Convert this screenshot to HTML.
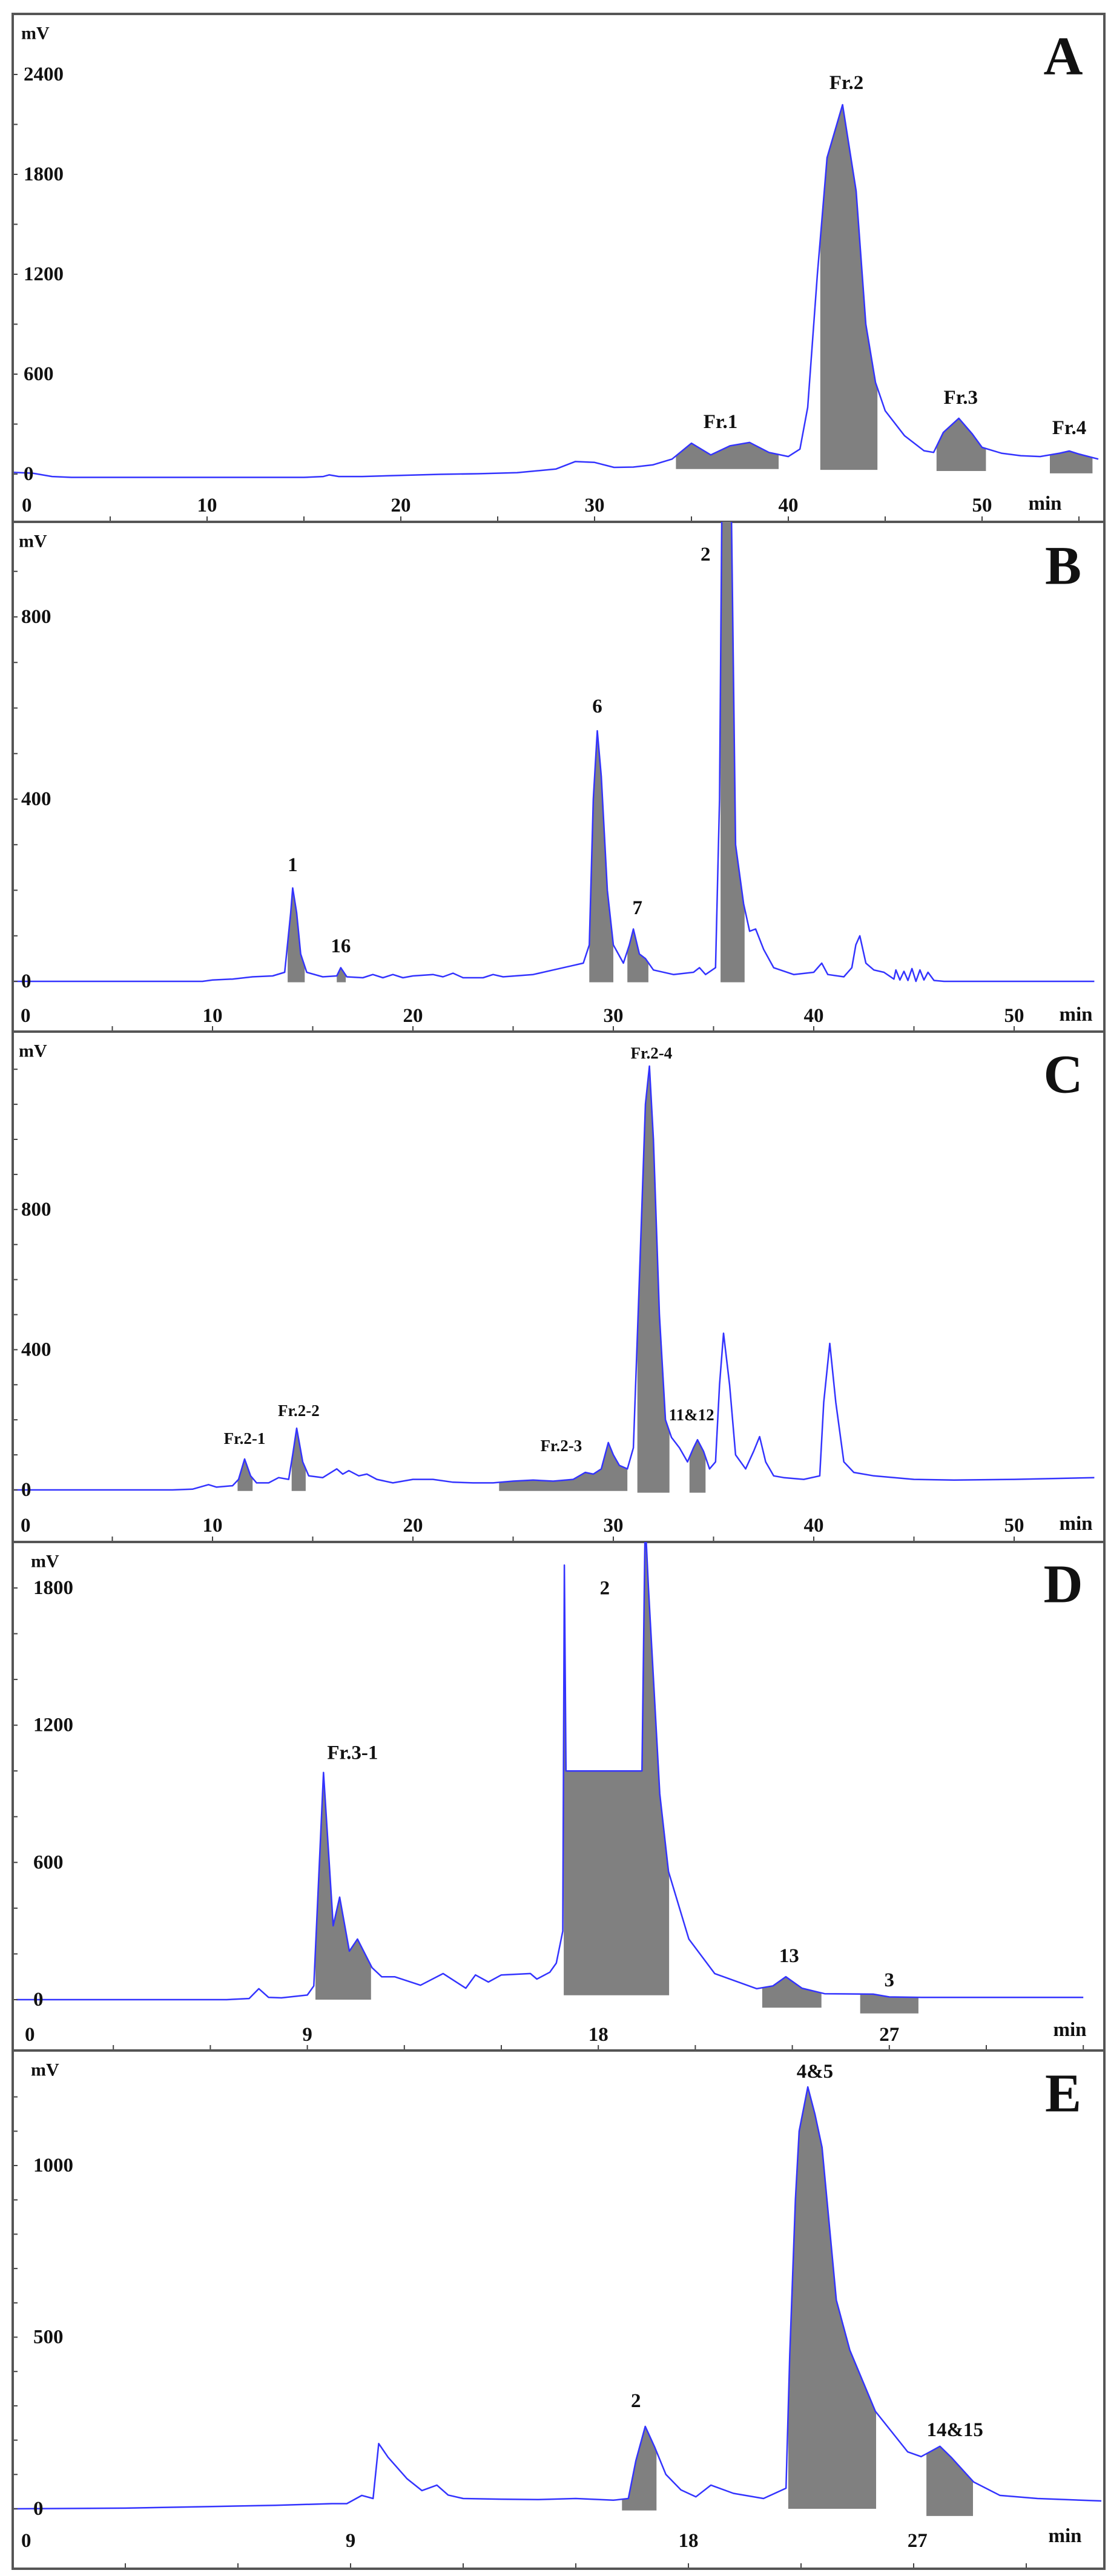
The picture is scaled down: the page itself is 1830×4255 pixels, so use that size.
<!DOCTYPE html>
<html><head><meta charset="utf-8"><style>
html,body{margin:0;padding:0;background:#fff}
svg{display:block}
text{font-family:"Liberation Serif",serif;font-weight:bold;fill:#111}
</style></head><body>
<svg id="fig" width="1830" height="4255" viewBox="0 0 1830 4255" xmlns="http://www.w3.org/2000/svg"></svg>
<script>
// ---------- Panel A data ----------
const aTimes=[0,1,2,3,15,16,16.3,16.8,18,20,22,24,26,28,29,30,31,32,33,34,35,36,37,38,39,40,40.6,41,41.5,42,42.8,43.5,44,44.5,45,46,47,47.5,48,48.8,49.5,50,51,52,53,54,54.5,55,56];
const aValues=[10,5,-15,-20,-20,-15,-5,-15,-15,-8,-2,2,8,30,75,70,40,42,55,90,185,115,170,190,130,105,150,400,1200,1900,2218,1700,900,550,380,230,140,130,250,335,240,160,125,110,105,125,138,120,90];
const aFillStart=[34.2,41.65,47.65,53.5];
const aFillEnd=[39.5,44.6,50.2,55.7];
const aFillBottom=[30,25,18,4];
const aPeakNames=["Fr.1","Fr.2","Fr.3","Fr.4"];
const aPeakT=[36.5,43.0,48.9,54.5];
const aPeakV=[313,2349,458,276];
const aYTicks=[0,600,1200,1800,2400];
const aXTicks=[0,10,20,30,40,50];

// ---------- Panel B data ----------
const bTimes=[0,9.5,10,11,12,13,13.6,13.9,14.0,14.2,14.4,14.7,15.5,16.2,16.4,16.7,17.5,18,18.5,19,19.5,20,21,21.5,22,22.5,23.5,24,24.5,26,27,28,28.5,28.8,29.0,29.2,29.4,29.7,30,30.5,30.8,31.0,31.3,31.6,32,33,34,34.3,34.6,35.1,35.3,35.5,35.7,35.9,36.1,36.5,36.8,37.1,37.5,38,39,40,40.4,40.7,41.5,41.9,42.1,42.3,42.6,43,43.5,44,44.1,44.3,44.5,44.7,44.9,45.1,45.3,45.5,45.7,46,46.5,52,54];
const bValues=[0,0,3,5,10,12,20,150,205,150,60,20,10,12,30,10,8,15,8,15,8,12,15,10,18,8,8,15,10,15,25,35,40,80,400,550,450,200,80,40,80,115,60,50,25,15,20,30,15,30,400,1500,1500,1000,300,170,110,115,70,30,15,20,40,15,10,30,80,100,40,25,20,5,25,3,22,2,28,0,25,3,20,2,0,0,0];
const bFillStart=[13.75,16.2,28.8,30.7,35.35];
const bFillEnd=[14.6,16.65,30.0,31.75,36.55];
const bFillBottom=[-2,-2,-2,-2,-2];
const bPeakNames=["2","6","1","16","7"];
const bPeakT=[34.6,29.2,14.0,16.4,31.2];
const bPeakV=[937,603,255,77,161];
const bYTicks=[0,400,800];
const bXTicks=[0,10,20,30,40,50];

// ---------- Panel C data ----------
const cTimes=[0,8,9,9.8,10.2,11,11.3,11.6,11.9,12.2,12.8,13.3,13.8,14.0,14.2,14.5,14.8,15.5,16.2,16.5,16.8,17.3,17.7,18.2,19,20,21,22,23,24,25,26,27,28,28.6,29,29.4,29.75,30.0,30.3,30.7,31.0,31.3,31.6,31.8,32.0,32.3,32.6,32.9,33.3,33.7,34.0,34.2,34.5,34.8,35.1,35.3,35.5,35.8,36.1,36.6,37.0,37.3,37.6,38,38.5,39.5,40.3,40.5,40.8,41.1,41.5,42,43,45,47,50,54];
const cValues=[0,0,2,15,8,12,30,88,40,20,20,35,30,100,176,80,40,35,60,45,55,40,45,30,20,30,30,22,20,20,25,28,25,30,50,45,60,135,100,70,60,120,600,1100,1209,1000,500,200,150,120,80,120,143,110,60,80,300,447,300,100,60,110,152,80,40,35,30,40,250,418,250,80,50,40,30,28,30,35];
const cFillStart=[11.25,13.95,24.3,31.2,33.8];
const cFillEnd=[12.0,14.65,30.7,32.8,34.6];
const cFillBottom=[-3,-3,-3,-8,-8];
const cPeakNames=["Fr.2-4","Fr.2-1","Fr.2-2","Fr.2-3","11&12"];
const cPeakT=[31.9,11.6,14.3,27.4,33.9];
const cPeakV=[1246,147,226,126,214];
const cYTicks=[0,400,800];
const cXTicks=[0,10,20,30,40,50];

// ---------- Panel D data ----------
const dTimes=[0,6.5,7.2,7.5,7.8,8.2,9.0,9.2,9.5,9.8,10.0,10.3,10.55,11,11.3,11.7,12.5,13.2,13.9,14.2,14.6,15,15.9,16.1,16.5,16.7,16.9,16.95,17.0,19.35,19.45,19.55,19.9,20.17,20.8,21.6,22.9,23.4,23.8,24.3,25,26.5,27,28,33];
const dValues=[0,0,5,48,10,8,20,60,993,323,448,212,265,140,100,100,63,114,50,108,77,108,114,90,120,160,300,1900,1000,1000,2100,1800,900,560,265,114,48,60,100,50,26,24,12,10,10];
const dFillStart=[9.25,16.93,23.07,26.1];
const dFillEnd=[10.97,20.19,24.9,27.9];
const dFillBottom=[0,19,-35,-60];
const dPeakNames=["2","Fr.3-1","13","3"];
const dPeakT=[18.2,10.4,23.9,27.0];
const dPeakV=[1798,1079,190,85];
const dYTicks=[0,600,1200,1800];
const dXTicks=[0,9,18,27];

// ---------- Panel E data ----------
const eTimes=[0,3,5,7,8.5,8.9,9.3,9.6,9.75,10.0,10.5,10.9,11.3,11.6,12,13,14,15,16,16.4,16.6,16.85,17.1,17.4,17.8,18.2,18.6,19.2,20,20.6,20.7,20.85,20.95,21.18,21.37,21.56,21.94,22.3,22.98,23.84,24.2,24.7,25,25.6,26.3,27.3,29];
const eValues=[0,2,6,10,15,15,39,30,190,150,88,53,69,40,30,28,27,30,25,30,140,240,180,100,55,35,69,45,30,60,450,900,1100,1229,1150,1053,608,462,284,166,152,182,150,78,39,30,23];
const eFillStart=[16.23,20.66,24.34];
const eFillEnd=[17.15,23.0,25.58];
const eFillBottom=[-5,0,-21];
const ePeakNames=["4&5","2","14&15"];
const ePeakT=[21.37,16.6,25.1];
const ePeakV=[1273,314,229];
const eYTicks=[0,500,1000];
const eXTickLabels=["0","9","18","27"];
const eXTickAt=[0,9,18,24.1];

const NS="http://www.w3.org/2000/svg";
const svg=document.getElementById('fig');
function mk(tag,attrs,parent){const e=document.createElementNS(NS,tag);for(const k in attrs)e.setAttribute(k,attrs[k]);(parent||svg).appendChild(e);return e;}
function interp(ts,vs,t){if(t<=ts[0])return vs[0];for(let i=1;i<ts.length;i++){if(t<=ts[i]){const f=(t-ts[i-1])/(ts[i]-ts[i-1]);return vs[i-1]+f*(vs[i]-vs[i-1]);}}return vs[vs.length-1];}

const L=21,R=1824;
function panel(p){
  const g=mk('g',{});
  
  
  const X=t=>p.x0+p.xs*t, Y=v=>p.y0-p.ys*v;
  const cid='clip'+p.id;
  const cp=mk('clipPath',{id:cid},g);mk('rect',{x:L,y:p.top,width:R-L,height:p.bot-p.top},cp);
  // fills
  for(let i=0;i<p.fs.length;i++){
    let pts=[];const a=p.fs[i],b=p.fe[i];
    pts.push([X(a),Y(p.fb[i])]);pts.push([X(a),Y(interp(p.ts,p.vs,a))]);
    for(let j=0;j<p.ts.length;j++){if(p.ts[j]>a&&p.ts[j]<b)pts.push([X(p.ts[j]),Y(p.vs[j])]);}
    pts.push([X(b),Y(interp(p.ts,p.vs,b))]);pts.push([X(b),Y(p.fb[i])]);
    const poly=mk('polygon',{points:pts.map(q=>q[0].toFixed(1)+','+q[1].toFixed(1)).join(' '),fill:'#808080','clip-path':'url(#'+cid+')'},g);
    
    
  }
  // curve
  const d=p.ts.map((t,i)=>(i?'L':'M')+X(t).toFixed(1)+','+Y(p.vs[i]).toFixed(1)).join(' ');
  const path=mk('path',{d:d,fill:'none',stroke:'#3333ff','stroke-width':2.5,'stroke-linejoin':'round','clip-path':'url(#'+cid+')'},g);
  
  
  // y ticks
  for(let v=0;Y(v)>p.top+20;v+=p.minor){mk('line',{x1:L,x2:L+8,y1:Y(v),y2:Y(v),stroke:'#444','stroke-width':2},g);}
  p.yt.forEach(v=>{const t=mk('text',{x:p.ylx,y:Y(v),'font-size':33,'dominant-baseline':'central'},g);t.textContent=v;
    
    });
  const mv=mk('text',{x:p.ylx-4,y:p.top+32,'font-size':30,'dominant-baseline':'central'},g);mv.textContent='mV';
  
  
  // x ticks
  for(let t=p.xminor;X(t)<R-10;t+=p.xminor){mk('line',{x1:X(t),x2:X(t),y1:p.bot,y2:p.bot-9,stroke:'#444','stroke-width':2},g);}
  p.xl.forEach((s,i)=>{const x=X(p.xa[i]);const t=mk('text',{x:i===0?x+14:x,y:p.xly,'font-size':33,'text-anchor':i===0?'start':'middle','dominant-baseline':'central'},g);t.textContent=s;
    
    });
  const mn=mk('text',{x:p.minx,y:p.miny,'font-size':33,'text-anchor':'middle','dominant-baseline':'central'},g);mn.textContent='min';
  
  
  // peak labels
  p.pn.forEach((s,i)=>{const t=mk('text',{x:X(p.pt[i]),y:Y(p.pv[i]),'font-size':p.pfs,'text-anchor':'middle','dominant-baseline':'central'},g);t.textContent=s;
    
    });
  const lt=mk('text',{x:1756,y:p.top+p.lety,'font-size':90,'text-anchor':'middle','dominant-baseline':'central'},g);lt.textContent=p.id;
  
  
  // frame bottom
  mk('line',{x1:L,x2:R,y1:p.bot,y2:p.bot,stroke:'#555','stroke-width':4},g);
}
panel({id:'A',top:23,bot:862,x0:22,xs:32,y0:783,ys:0.275,ts:aTimes,vs:aValues,fs:aFillStart,fe:aFillEnd,fb:aFillBottom,pn:aPeakNames,pt:aPeakT,pv:aPeakV,yt:aYTicks,minor:300,ylx:39,xl:aXTicks.map(String),xa:aXTicks,xminor:5,xly:835,minx:1726,miny:832,pfs:33,lety:70});
panel({id:'B',top:862,bot:1704,x0:20,xs:33.1,y0:1621,ys:0.7525,ts:bTimes,vs:bValues,fs:bFillStart,fe:bFillEnd,fb:bFillBottom,pn:bPeakNames,pt:bPeakT,pv:bPeakV,yt:bYTicks,minor:100,ylx:35,xl:bXTicks.map(String),xa:bXTicks,xminor:5,xly:1678,minx:1777,miny:1676,pfs:33,lety:73});
panel({id:'C',top:1704,bot:2547,x0:20,xs:33.1,y0:2461,ys:0.579,ts:cTimes,vs:cValues,fs:cFillStart,fe:cFillEnd,fb:cFillBottom,pn:cPeakNames,pt:cPeakT,pv:cPeakV,yt:cYTicks,minor:100,ylx:35,xl:cXTicks.map(String),xa:cXTicks,xminor:5,xly:2520,minx:1777,miny:2517,pfs:27,lety:71});
panel({id:'D',top:2547,bot:3387,x0:27,xs:53.4,y0:3303,ys:0.3778,ts:dTimes,vs:dValues,fs:dFillStart,fe:dFillEnd,fb:dFillBottom,pn:dPeakNames,pt:dPeakT,pv:dPeakV,yt:dYTicks,minor:200,ylx:55,xl:dXTicks.map(String),xa:dXTicks,xminor:3,xly:3361,minx:1767,miny:3353,pfs:33,lety:70});
panel({id:'E',top:3387,bot:4243,x0:21,xs:62,y0:4144,ys:0.567,ts:eTimes,vs:eValues,fs:eFillStart,fe:eFillEnd,fb:eFillBottom,pn:ePeakNames,pt:ePeakT,pv:ePeakV,yt:eYTicks,minor:100,ylx:55,xl:eXTickLabels,xa:eXTickAt,xminor:3,xly:4197,minx:1759,miny:4189,pfs:33,lety:71});
// outer frame
const fr=mk('rect',{x:L,y:23,width:R-L,height:4243-23,fill:'none',stroke:'#555','stroke-width':4});


</script>
</body></html>
